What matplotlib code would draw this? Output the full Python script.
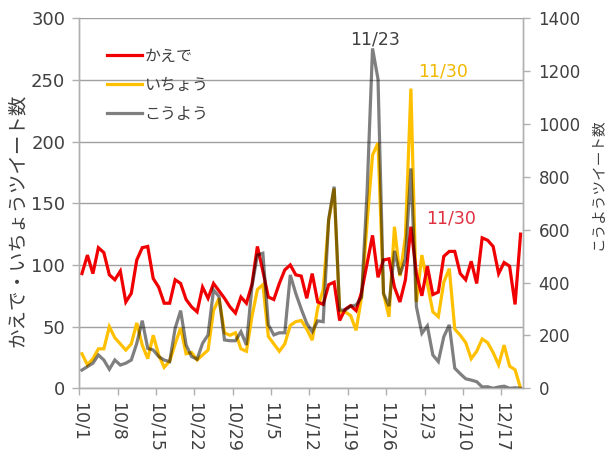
import numpy as np
import matplotlib
matplotlib.use("Agg")
import matplotlib.pyplot as plt
from matplotlib.lines import Line2D

plt.rcParams['font.family'] = ['DejaVu Sans', 'Noto Sans CJK JP']

# ---- data (10/1 .. 12/20, daily) ----
kaede = [93, 108, 93, 114, 110, 92, 88, 95, 70, 77,
         104, 114, 115, 89, 82, 69, 69, 88, 85, 72,
         66, 62, 82, 73, 85, 79, 73, 66, 61, 74,
         69, 84, 115, 95, 74, 72, 85, 96, 100, 92,
         91, 73, 93, 70, 68, 84, 86, 55, 64, 67,
         63, 78, 101, 124, 90, 104, 105, 82, 70, 88,
         131, 93, 75, 99, 76, 78, 107, 111, 111, 93,
         88, 103, 85, 122, 120, 115, 93, 102, 99, 68,
         125]
icho = [28, 19, 24, 32, 32, 50, 41, 36, 31, 36,
        53, 35, 24, 43, 27, 17, 22, 36, 49, 28,
        29, 23, 27, 31, 63, 73, 45, 43, 45, 32,
        30, 58, 80, 84, 42, 36, 30, 36, 51, 54,
        55, 48, 39, 65, 80, 136, 162, 62, 62, 59,
        47, 74, 134, 189, 199, 77, 58, 131, 91, 123,
        243, 70, 108, 85, 62, 58, 86, 97, 48, 43,
        37, 24, 30, 40, 37, 29, 19, 35, 18, 15,
        0]
koyo = [69, 82, 95, 126, 107, 72, 107, 88, 95, 107,
        170, 256, 151, 145, 120, 107, 101, 227, 294, 164,
        120, 110, 170, 202, 372, 347, 183, 180, 180, 214,
        164, 384, 504, 511, 240, 202, 210, 210, 429, 359,
        300, 246, 214, 255, 252, 640, 763, 296, 296, 311,
        315, 345, 740, 1286, 1170, 359, 311, 520, 430, 490,
        832, 309, 208, 236, 126, 101, 195, 240, 76, 55,
        36, 31, 25, 5, 6, 0, 5, 8, 0, 2,
        0]
tick_labels = ['10/1', '10/8', '10/15', '10/22', '10/29', '11/5',
               '11/12', '11/19', '11/26', '12/3', '12/10', '12/17']
series_names = ['かえで', 'いちょう', 'こうよう']

days = np.arange(len(kaede))

RED = '#F00000'
GOLD = '#FFC000'
AXC = '#B0B0B0'
TXT = '#404040'

fig = plt.figure(figsize=(6.09, 4.5), dpi=100)
W, H = 609, 450
ax = fig.add_axes([79.2 / W, 1 - 388.3 / H, (523.3 - 79.2) / W, (388.3 - 18.3) / H])
ax2 = ax.twinx()

lw = 2.3
ax.plot(days, icho, color=GOLD, lw=lw, solid_joinstyle='miter', zorder=3)
ax.plot(days, kaede, color=RED, lw=lw, solid_joinstyle='miter', zorder=4)
ax2.plot(days, koyo, color='black', alpha=0.5, lw=lw, solid_joinstyle='miter')

ax.set_xlim(-0.5, len(kaede) - 0.5)
ax.set_ylim(0, 300)
ax2.set_ylim(0, 1400)
ax.set_yticks(np.arange(0, 301, 50))
ax2.set_yticks(np.arange(0, 1401, 200))
ax.set_xticks(np.arange(0, len(kaede), 7)[:len(tick_labels)] - 0.5)
ax.set_xticklabels(tick_labels, rotation=-90, va='top', ha='center')

ax.yaxis.grid(True, color='#A0A0A0', lw=1.0)
ax.set_axisbelow(True)

for a in (ax, ax2):
    for s in a.spines.values():
        s.set_color(AXC)
        s.set_linewidth(1.0)
    a.spines['top'].set_visible(False)
ax.tick_params(axis='both', colors=AXC, labelcolor=TXT, length=5, width=1.0)
ax.tick_params(axis='y', labelsize=13, pad=5)
ax.tick_params(axis='x', labelsize=12.5, pad=5)
ax2.tick_params(axis='y', colors=AXC, labelcolor=TXT, length=5, width=1.0,
                labelsize=12, pad=6)

ax.set_ylabel('かえで・いちょうツイート数', fontsize=14, color=TXT)
ax.yaxis.set_label_coords((17 - 79.2) / 444.1, (388.3 - 220) / 370)
ax.yaxis.label.set_va('center')
ax2.set_ylabel('こうようツイート数', fontsize=10.5, color=TXT)
ax2.yaxis.set_label_coords((598 - 79.2) / 444.1, (388.3 - 184) / 370)
ax2.yaxis.label.set_va('center')

handles = [Line2D([], [], color=RED, lw=lw),
           Line2D([], [], color=GOLD, lw=lw),
           Line2D([], [], color='black', alpha=0.5, lw=lw)]
leg = ax2.legend(handles, series_names, loc='upper left',
                 bbox_to_anchor=(0.0626, 0.918), frameon=False,
                 fontsize=11.5, handlelength=2.2, handletextpad=0.15,
                 labelspacing=0.88, borderpad=0, borderaxespad=0)
for t in leg.get_texts():
    t.set_color(TXT)

ax.text(53.5, 283, '11/23', color=TXT, fontsize=12.5, ha='center', va='center')
ax.text(65.9, 256.5, '11/30', color='#F2B800', fontsize=12.5, ha='center', va='center')
ax.text(67.3, 138, '11/30', color='#E03040', fontsize=12.5, ha='center', va='center')

fig.savefig('out.png', dpi=100)
